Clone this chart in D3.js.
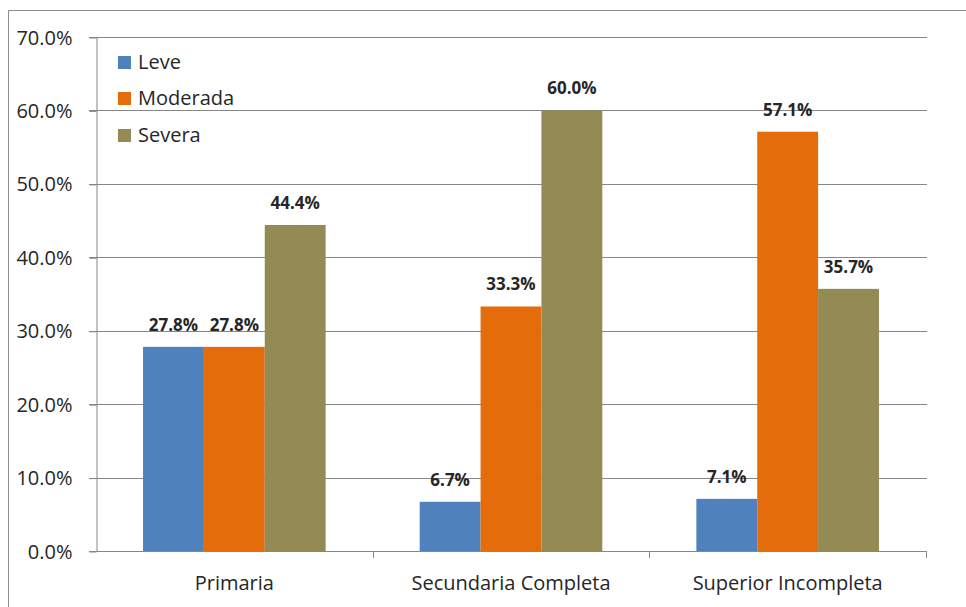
<!DOCTYPE html>
<html>
<head>
<meta charset="utf-8">
<script src="https://cdn.jsdelivr.net/npm/d3@7"></script>
<style>
  html, body { margin: 0; padding: 0; background: #fff; }
  svg { display: block; }
</style>
</head>
<body>
<svg id="chart" width="966" height="607"></svg>
<script>
// Niveles de instrucción y grado de severidad
const categories = ["Primaria", "Secundaria Completa", "Superior Incompleta"];
const seriesNames = ["Leve", "Moderada", "Severa"];
const leve = [27.8, 6.7, 7.1];
const moderada = [27.8, 33.3, 57.1];
const severa = [44.4, 60.0, 35.7];
const yTicks = [0, 10, 20, 30, 40, 50, 60, 70];
const colors = ["#4F81BD", "#E46C0A", "#948A54"];

const seriesValues = [leve, moderada, severa];
const rows = categories.map((c, i) => ({
  category: c,
  values: seriesNames.map((s, k) => ({ series: s, k, value: seriesValues[k][i] }))
}));

const svg = d3.select("#chart");
const font = "'Open Sans', 'Noto Sans', sans-serif";
const margin = { left: 96, top: 37 };
const W = 966, H = 607;
const plotR = 926;
const plotB = 551;

// frame around the chart area
svg.append("path")
  .attr("d", `M8.5,${H} L8.5,10.5 L${W},10.5`)
  .attr("fill", "none")
  .attr("stroke", "#8c8c8c")
  .attr("stroke-width", 1);

const x0 = d3.scaleBand().domain(categories).range([margin.left, plotR]).paddingInner(0).paddingOuter(0);
const groupW = x0.bandwidth() * 0.66;
const x1 = d3.scaleBand().domain(seriesNames).range([0, groupW]).padding(0);
const y = d3.scaleLinear().domain([0, 70]).range([plotB, margin.top]);

// horizontal gridlines
svg.append("g")
  .selectAll("line")
  .data(yTicks.filter(t => t > 0))
  .join("line")
  .attr("x1", margin.left - 7)
  .attr("x2", plotR + 1)
  .attr("y1", d => Math.round(y(d)) + 0.5)
  .attr("y2", d => Math.round(y(d)) + 0.5)
  .attr("stroke", "#868686")
  .attr("stroke-width", 1);

// y axis
const yAxis = d3.axisLeft(y).tickValues(yTicks).tickSize(7).tickFormat(d => d3.format(".1f")(d) + "%");
const gy = svg.append("g").attr("transform", `translate(${margin.left + 0.5},0)`).call(yAxis);
gy.select(".domain").attr("stroke", "#868686").attr("d", `M-7,${Math.round(plotB)}.5H0.5V${Math.round(y(70))}.5`);
gy.selectAll(".tick line").attr("stroke", "#868686").attr("transform", "translate(0,0.5)");
gy.selectAll(".tick text")
  .attr("x", -24)
  .attr("dy", "0.35em")
  .attr("font-family", font)
  .attr("font-size", 20)
  .attr("fill", "#262626");

// bars
const groups = svg.append("g")
  .selectAll("g")
  .data(rows)
  .join("g")
  .attr("transform", d => `translate(${x0(d.category) + (x0.bandwidth() - groupW) / 2},0)`);

groups.selectAll("rect")
  .data(d => d.values)
  .join("rect")
  .attr("x", d => x1(d.series))
  .attr("width", x1.bandwidth())
  .attr("y", d => y(d.value))
  .attr("height", d => plotB - y(d.value))
  .attr("fill", d => colors[d.k]);

// value labels
groups.selectAll("text")
  .data(d => d.values)
  .join("text")
  .attr("x", d => x1(d.series) + x1.bandwidth() / 2)
  .attr("y", d => y(d.value) - 16)
  .attr("text-anchor", "middle")
  .attr("font-family", font)
  .attr("font-size", 17)
  .attr("font-weight", "bold")
  .attr("fill", "#262626")
  .text(d => d3.format(".1f")(d.value) + "%");

// x axis
const xAxis = d3.axisBottom(x0).tickSize(0).tickSizeOuter(0);
const gx = svg.append("g").attr("transform", `translate(0,${plotB})`).call(xAxis);
gx.select(".domain").attr("stroke", "#868686").attr("d", `M${margin.left - 7},0.5H${plotR + 0.5}`);
gx.selectAll(".tick text")
  .attr("y", 39)
  .attr("dy", 0)
  .attr("font-family", font)
  .attr("font-size", 20)
  .attr("fill", "#262626");

// category boundary ticks
svg.append("g")
  .selectAll("line")
  .data(categories.map(c => x0(c) + x0.bandwidth()))
  .join("line")
  .attr("x1", d => Math.round(d) + 0.5)
  .attr("x2", d => Math.round(d) + 0.5)
  .attr("y1", plotB)
  .attr("y2", plotB + 7)
  .attr("stroke", "#868686");

// legend
const legend = svg.append("g").attr("transform", "translate(118,0)");
const legendY = [62, 98, 135];
seriesNames.forEach((s, k) => {
  legend.append("rect")
    .attr("x", 0)
    .attr("y", legendY[k] - 6)
    .attr("width", 13)
    .attr("height", 13)
    .attr("fill", colors[k]);
  legend.append("text")
    .attr("x", 20)
    .attr("y", legendY[k])
    .attr("dy", "0.35em")
    .attr("font-family", font)
    .attr("font-size", 20)
    .attr("fill", "#262626")
    .text(s);
});
</script>
</body>
</html>
